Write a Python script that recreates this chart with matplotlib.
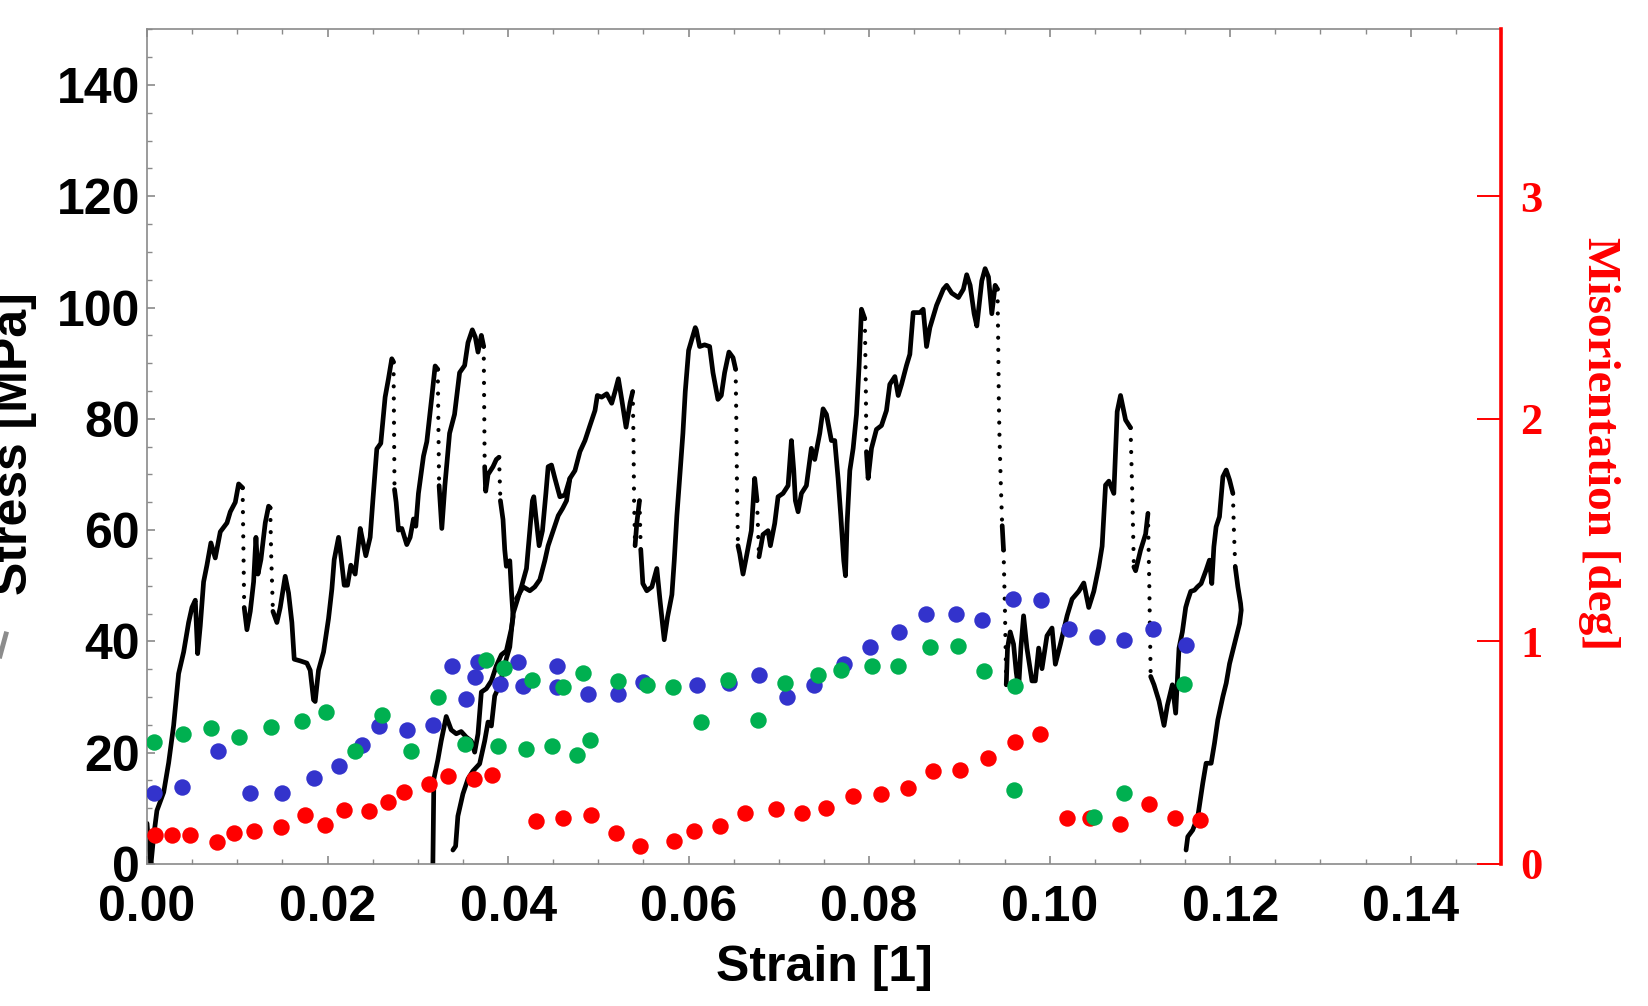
import numpy as np
import matplotlib
matplotlib.use("Agg")
import matplotlib.pyplot as plt
from matplotlib.collections import LineCollection
from matplotlib.lines import Line2D
from matplotlib.ticker import MultipleLocator, FixedLocator, FixedFormatter

# ---------------- data ----------------
# stress-strain trace (strain [1], stress [MPa]); three visual strands
trace1 = [(0.0000, 7.3), (0.00018, 3.6), (0.00044, 0.0), (0.00074, 5.0), (0.0011, 9.6), (0.00185, 12.9),
          (0.0024, 18.2), (0.00295, 24.9), (0.0035, 34.2), (0.00406, 38.1), (0.00461, 43.4), (0.00498, 46.1),
          (0.00535, 47.4), (0.00561, 37.8), (0.0059, 42.8), (0.00627, 50.7), (0.00664, 53.7), (0.00708, 57.7),
          (0.00756, 55.0), (0.00812, 59.7), (0.00886, 61.3), (0.00923, 63.3), (0.00978, 65.0), (0.01015, 68.3),
          (0.01059, 67.6), (0.01077, 46.1), (0.01107, 42.1), (0.01144, 45.4), (0.01181, 50.7), (0.01207, 58.7),
          (0.01229, 52.1), (0.01262, 54.7), (0.0131, 61.3), (0.01347, 64.3), (0.01365, 64.0), (0.01376, 55.4),
          (0.01395, 45.4), (0.01439, 43.4), (0.01476, 46.1), (0.01531, 51.7), (0.01568, 48.7), (0.01605, 43.4),
          (0.01631, 36.8), (0.01697, 36.5), (0.01771, 36.1), (0.01808, 34.8), (0.01845, 29.5), (0.01863, 29.2),
          (0.019, 34.8), (0.01956, 38.1), (0.02011, 44.1), (0.02048, 49.4), (0.02074, 54.7), (0.02122, 58.7),
          (0.02148, 55.4), (0.02185, 50.1), (0.02221, 50.1), (0.02258, 53.7), (0.02306, 52.1), (0.02362, 60.3),
          (0.02391, 58.0), (0.02424, 55.4), (0.02472, 58.7), (0.02502, 65.3), (0.02546, 74.6), (0.0259, 75.6),
          (0.02638, 83.9), (0.02675, 87.2), (0.02712, 90.8), (0.02731, 90.2), (0.02742, 67.3), (0.0276, 65.0),
          (0.02786, 60.0), (0.02823, 60.3), (0.02878, 57.4), (0.02915, 58.7), (0.02952, 62.0), (0.02978, 60.7),
          (0.03007, 66.6), (0.03063, 73.3), (0.031, 75.9), (0.03155, 83.9), (0.03192, 89.5), (0.03221, 88.9),
          (0.03236, 68.0), (0.03266, 60.3), (0.0330, 68.0), (0.03352, 77.4), (0.03407, 80.8), (0.03463, 88.3),
          (0.03519, 89.6), (0.03556, 93.7), (0.03604, 96.0), (0.03637, 94.7), (0.03667, 92.0), (0.03704, 95.0),
          (0.0373, 93.0), (0.03741, 71.4), (0.03752, 67.0), (0.03778, 70.0), (0.03833, 71.4), (0.0387, 72.7),
          (0.039, 73.1), (0.03915, 65.3), (0.03944, 61.9), (0.03963, 56.5), (0.03981, 53.5), (0.04019, 54.5),
          (0.04037, 49.1), (0.04056, 44.4), (0.04037, 42.3), (0.03981, 38.3), (0.03926, 37.6), (0.0387, 35.6),
          (0.03815, 32.9), (0.03759, 31.5), (0.03704, 30.9), (0.03667, 23.4), (0.0363, 20.1), (0.03593, 22.1),
          (0.03537, 22.8), (0.03481, 23.8), (0.03426, 23.4), (0.0337, 24.1), (0.03315, 26.5), (0.03259, 22.1),
          (0.03222, 18.7), (0.03178, 15.3), (0.03167, 0.0)]

trace2 = [(0.03389, 2.5), (0.03419, 3.2), (0.03444, 8.6), (0.035, 12.6), (0.03556, 15.3), (0.03611, 16.7),
          (0.03685, 18.0), (0.03741, 22.1), (0.03778, 25.5), (0.03815, 24.8), (0.03852, 30.2), (0.03907, 32.2),
          (0.03981, 36.9), (0.04019, 39.0), (0.04056, 45.0), (0.04148, 49.8), (0.04204, 53.1), (0.04241, 59.9),
          (0.0427, 65.3), (0.04285, 66.0), (0.04307, 62.6), (0.04344, 57.2), (0.04381, 59.9), (0.04419, 66.6),
          (0.04444, 71.4), (0.04481, 71.7), (0.04519, 69.3), (0.04574, 66.0), (0.0463, 66.3), (0.04685, 69.3),
          (0.04741, 70.7), (0.04796, 74.1), (0.04852, 76.1), (0.04907, 78.8), (0.04963, 81.5), (0.04989, 84.2),
          (0.05037, 83.9), (0.05093, 84.5), (0.05148, 82.8), (0.05185, 84.9), (0.05222, 87.2), (0.05259, 83.5),
          (0.05307, 78.5), (0.05352, 82.9), (0.05381, 84.9), (0.05389, 76.8), (0.05396, 65.3), (0.05407, 57.2),
          (0.05426, 61.2), (0.05456, 65.3), (0.0547, 56.5), (0.05493, 50.4), (0.05537, 49.1), (0.05593, 49.8),
          (0.05648, 53.1), (0.05685, 47.1), (0.0573, 40.3), (0.05767, 44.4), (0.05815, 48.4), (0.05841, 54.5),
          (0.0587, 62.6), (0.05907, 70.7), (0.05937, 77.4), (0.05963, 84.9), (0.06, 92.3), (0.06074, 96.4),
          (0.06085, 96.0), (0.06122, 93.0), (0.06177, 93.3), (0.06233, 93.0), (0.0627, 88.3), (0.06325, 83.5),
          (0.06362, 84.2), (0.06399, 88.3), (0.06447, 92.0), (0.06492, 91.0), (0.06521, 88.9), (0.06529, 79.5),
          (0.06536, 68.0), (0.06547, 57.2), (0.06566, 55.8), (0.06603, 52.1), (0.0664, 55.2), (0.06695, 59.9),
          (0.06732, 69.3), (0.06758, 65.3), (0.0678, 55.2), (0.06824, 59.2), (0.0688, 59.9), (0.06906, 57.2),
          (0.06954, 61.2), (0.06991, 66.0), (0.07046, 66.6), (0.07102, 68.0), (0.07139, 76.1), (0.07165, 70.7),
          (0.07183, 65.3), (0.07213, 63.3), (0.0725, 66.6), (0.07305, 68.0), (0.0736, 74.7), (0.07397, 72.7),
          (0.07453, 77.4), (0.0749, 81.8), (0.07527, 80.8), (0.07582, 76.1), (0.07619, 76.1), (0.07656, 69.3),
          (0.07686, 62.6), (0.07719, 54.5), (0.07738, 51.8), (0.07756, 61.2), (0.07786, 70.7), (0.07823, 74.7),
          (0.0786, 80.8), (0.07889, 89.6), (0.07915, 99.7), (0.07952, 98.0), (0.07963, 86.2), (0.0797, 74.1),
          (0.07989, 69.3), (0.08026, 74.7), (0.08081, 78.1), (0.08137, 78.8), (0.08192, 81.5), (0.08229, 86.2),
          (0.08285, 87.6), (0.08322, 84.2), (0.08359, 86.2), (0.08414, 89.6), (0.08451, 91.6), (0.08488, 99.1),
          (0.08562, 99.1), (0.08599, 99.7), (0.08636, 93.0), (0.08673, 96.4), (0.08747, 100.4), (0.08822, 103.3),
          (0.08859, 104.0), (0.08915, 102.6), (0.08989, 101.8), (0.09044, 103.3), (0.09081, 105.9), (0.09119, 104.0),
          (0.09163, 98.9), (0.09193, 96.7), (0.09248, 104.8), (0.09285, 107.0), (0.09322, 105.5), (0.09359, 98.9),
          (0.09396, 104.0), (0.09422, 103.3), (0.0943, 93.8), (0.09437, 82.8), (0.09444, 76.9), (0.09459, 68.1),
          (0.09474, 60.8), (0.09489, 56.4), (0.09504, 46.1), (0.09519, 32.2), (0.09533, 38.8), (0.09563, 41.7),
          (0.096, 39.5), (0.0963, 34.4), (0.09656, 31.5), (0.09681, 38.8), (0.09711, 44.6), (0.09748, 38.8),
          (0.09804, 32.9), (0.09841, 32.9), (0.09878, 38.8), (0.09915, 35.1), (0.0997, 41.0), (0.10026, 42.4),
          (0.10063, 35.9), (0.10119, 39.5), (0.10193, 44.6), (0.10248, 47.6), (0.10322, 49.0), (0.10378, 50.5),
          (0.10433, 46.1), (0.10489, 49.0), (0.10544, 53.4), (0.10581, 57.1), (0.10619, 68.1), (0.10656, 68.8),
          (0.10711, 66.6), (0.10748, 81.3), (0.10785, 84.2), (0.10841, 79.8), (0.10896, 78.4), (0.10915, 66.6),
          (0.10933, 53.4), (0.10952, 52.7), (0.11007, 56.4), (0.11063, 59.3), (0.11089, 63.0), (0.11104, 49.8),
          (0.11119, 33.7), (0.11156, 32.2), (0.11211, 29.3), (0.11267, 24.9), (0.11304, 28.5), (0.11359, 32.2),
          (0.11396, 27.1), (0.11433, 38.8), (0.1147, 41.7), (0.11507, 46.1), (0.1153, 47.4), (0.11563, 49.0),
          (0.11604, 49.2), (0.11637, 49.8), (0.11678, 50.4), (0.11733, 52.8), (0.1177, 54.6), (0.11796, 50.4),
          (0.11819, 57.0), (0.11844, 60.6), (0.11881, 62.4), (0.11919, 69.6), (0.11956, 70.8), (0.11993, 69.0),
          (0.1203, 66.6), (0.12041, 60.0), (0.12056, 53.4), (0.12085, 49.8), (0.12115, 46.8), (0.12122, 45.6),
          (0.12104, 43.2), (0.12067, 40.8), (0.1203, 38.4), (0.11993, 36.0), (0.11956, 32.5), (0.11919, 30.1),
          (0.11863, 25.9), (0.11826, 21.7), (0.11789, 18.1), (0.11733, 18.1), (0.11696, 14.5), (0.11641, 8.5),
          (0.11585, 6.1), (0.1153, 4.9), (0.11511, 2.5)]

trace3 = [(0.04093, 47.7), (0.04167, 49.8), (0.04241, 49.1), (0.04296, 49.8), (0.04352, 51.1), (0.04407, 54.5),
          (0.04444, 57.2), (0.045, 59.9), (0.04556, 62.6), (0.04604, 63.9), (0.04648, 65.3), (0.04685, 69.3)]

# misorientation points (strain [1], misorientation [deg])
red_strain = [0.00085, 0.00277, 0.00472, 0.00775, 0.00959, 0.01188, 0.0148, 0.01745, 0.0197, 0.0218, 0.02454,
              0.02668, 0.02845, 0.03125, 0.03332, 0.03622, 0.03822, 0.04311, 0.04607, 0.04919, 0.05193, 0.05467,
              0.05837, 0.06059, 0.06351, 0.06628, 0.06965, 0.07257, 0.07527, 0.07826, 0.08137, 0.08433, 0.0871,
              0.09007, 0.09315, 0.09611, 0.09896, 0.10193, 0.10452, 0.10774, 0.1110, 0.11389, 0.11668]
red_mis = [0.129, 0.129, 0.129, 0.100, 0.141, 0.149, 0.166, 0.220, 0.174, 0.244, 0.240, 0.280, 0.323, 0.361,
           0.397, 0.383, 0.400, 0.194, 0.206, 0.219, 0.138, 0.079, 0.105, 0.147, 0.169, 0.231, 0.248, 0.231,
           0.252, 0.304, 0.315, 0.341, 0.416, 0.423, 0.475, 0.548, 0.585, 0.205, 0.205, 0.178, 0.268, 0.205, 0.199]

blue_strain = [0.00081, 0.00387, 0.00786, 0.01137, 0.01491, 0.01852, 0.02129, 0.0238, 0.02568, 0.0288, 0.0317,
               0.03384, 0.03533, 0.03637, 0.03667, 0.03907, 0.04115, 0.04167, 0.04541, 0.04537, 0.04885, 0.05215,
               0.055, 0.06098, 0.06447, 0.06776, 0.07094, 0.0739, 0.07723, 0.08007, 0.08328, 0.08632, 0.08963,
               0.09248, 0.09589, 0.09907, 0.10211, 0.10526, 0.10822, 0.11148, 0.11507]
blue_mis = [0.318, 0.348, 0.506, 0.318, 0.320, 0.386, 0.439, 0.535, 0.622, 0.601, 0.623, 0.888, 0.741, 0.839,
            0.906, 0.810, 0.906, 0.800, 0.890, 0.797, 0.763, 0.763, 0.818, 0.805, 0.814, 0.847, 0.750, 0.802,
            0.898, 0.974, 1.040, 1.122, 1.125, 1.094, 1.190, 1.186, 1.056, 1.021, 1.006, 1.056, 0.984]

green_strain = [0.00074, 0.00399, 0.00708, 0.01015, 0.01373, 0.01712, 0.01985, 0.02299, 0.02598, 0.0292, 0.03226,
                0.03522, 0.03752, 0.03889, 0.03956, 0.04196, 0.04267, 0.04485, 0.04604, 0.04763, 0.04826, 0.04907,
                0.05219, 0.05534, 0.05822, 0.06135, 0.06436, 0.06769, 0.07068, 0.07434, 0.07693, 0.08033, 0.0832,
                0.08673, 0.08989, 0.09278, 0.09611, 0.0960, 0.10489, 0.10822, 0.11489]
green_mis = [0.547, 0.584, 0.613, 0.572, 0.617, 0.642, 0.683, 0.506, 0.668, 0.506, 0.748, 0.538, 0.915, 0.530,
             0.881, 0.518, 0.827, 0.530, 0.793, 0.490, 0.856, 0.555, 0.822, 0.805, 0.793, 0.638, 0.827, 0.648,
             0.814, 0.851, 0.873, 0.890, 0.889, 0.974, 0.979, 0.869, 0.799, 0.332, 0.209, 0.319, 0.808]

x_ticks = [0.00, 0.02, 0.04, 0.06, 0.08, 0.10, 0.12, 0.14]
x_tick_labels = ["0.00", "0.02", "0.04", "0.06", "0.08", "0.10", "0.12", "0.14"]
y_ticks = [0, 20, 40, 60, 80, 100, 120, 140]
y2_ticks = [0, 1, 2, 3]

# ---------------- style ----------------
plt.rcParams['font.family'] = ['Liberation Sans', 'DejaVu Sans']
plt.rcParams['font.weight'] = 'bold'
GRAY = '#8a8a8a'

fig = plt.figure(figsize=(16.48, 10.06), dpi=100)
ax = fig.add_axes([0.0892, 0.1412, 0.8216, 0.8296])
ax.set_xlim(0, 0.15)
ax.set_ylim(0, 150)


def draw_trace(axis, pts):
    xs = [p[0] for p in pts]
    ys = [p[1] for p in pts]
    runs = []  # (is_drop, [points])
    for i in range(len(xs) - 1):
        dx = xs[i + 1] - xs[i]
        dy = ys[i + 1] - ys[i]
        drop = dy < -5 and dx >= 0 and (dx == 0 or dy / dx < -40000)
        if runs and runs[-1][0] == drop:
            runs[-1][1].append((xs[i + 1], ys[i + 1]))
        else:
            runs.append((drop, [(xs[i], ys[i]), (xs[i + 1], ys[i + 1])]))
    solid = [r[1] for r in runs if not r[0]]
    dotted = [r[1] for r in runs if r[0]]
    axis.add_collection(LineCollection(solid, colors='black', linewidths=3.4,
                                       capstyle='round', joinstyle='round', zorder=2))
    if dotted:
        axis.add_collection(LineCollection(dotted, colors='black', linewidths=3.0,
                                           linestyles=[(0, (0.01, 2.9))], capstyle='round', zorder=2))


for tr in (trace1, trace2, trace3):
    draw_trace(ax, tr)

ax.xaxis.set_major_locator(FixedLocator(x_ticks))
ax.xaxis.set_major_formatter(FixedFormatter(x_tick_labels))
ax.xaxis.set_minor_locator(MultipleLocator(0.005))
ax.yaxis.set_major_locator(FixedLocator(y_ticks))
ax.yaxis.set_minor_locator(MultipleLocator(5))
ax.tick_params(which='both', direction='in', top=True, right=True, color=GRAY, labelcolor='black')
ax.tick_params(which='major', length=5.5, width=1.2, labelsize=36)
ax.tick_params(which='minor', length=3.5, width=1.0)
ax.tick_params(axis='x', which='major', pad=15)
ax.tick_params(axis='y', which='major', pad=5)
for lab in ax.get_xticklabels() + ax.get_yticklabels():
    lab.set_fontweight('bold')
for s in ('left', 'bottom', 'top'):
    ax.spines[s].set_color(GRAY)
    ax.spines[s].set_linewidth(1.2)
ax.spines['right'].set_visible(False)

ax.set_xlabel('Strain [1]', fontsize=36, fontweight='bold', labelpad=10)

# left label (partly cut at figure edge, as in the original)
fig.text(27 / 1648, 0.5586, 'Stress [MPa]', rotation=90, rotation_mode='anchor',
         ha='center', va='baseline', fontsize=36, fontweight='bold', color='black')

# secondary axis
ax2 = ax.twinx()
ax2.set_ylim(0, 3.75)
ax2.yaxis.set_major_locator(FixedLocator(y2_ticks))
ax2.tick_params(axis='y', which='major', direction='in', length=17, width=1.4, color='red',
                labelcolor='red', labelsize=32, pad=14)
ax2.tick_params(axis='y', which='minor', right=False)
for lab in ax2.get_yticklabels():
    lab.set_fontfamily(['Liberation Serif', 'DejaVu Serif'])
    lab.set_fontweight('bold')
for s in ('left', 'bottom', 'top'):
    ax2.spines[s].set_visible(False)
ax2.spines['right'].set_color('red')
ax2.spines['right'].set_linewidth(2.6)

ax2.scatter(red_strain, red_mis, s=140, color='#FF0000', linewidths=0, zorder=3)
ax2.scatter(blue_strain, blue_mis, s=140, color='#3333CC', linewidths=0, zorder=4)
ax2.scatter(green_strain, green_mis, s=140, color='#00B050', linewidths=0, zorder=5)

fig.text(1588 / 1648, 0.5586, 'Misorientation [deg]', rotation=-90, rotation_mode='anchor',
         ha='center', va='baseline', fontsize=34, fontweight='bold', color='red',
         family=['Liberation Serif', 'DejaVu Serif'])

# small gray stroke at the left edge (fragment in the original image)
fig.add_artist(Line2D([0.0, 6 / 1648], [1 - 656 / 1006, 1 - 634 / 1006], color='#8c8c8c', lw=3.5,
                      transform=fig.transFigure))

fig.savefig('out.png', dpi=100)
